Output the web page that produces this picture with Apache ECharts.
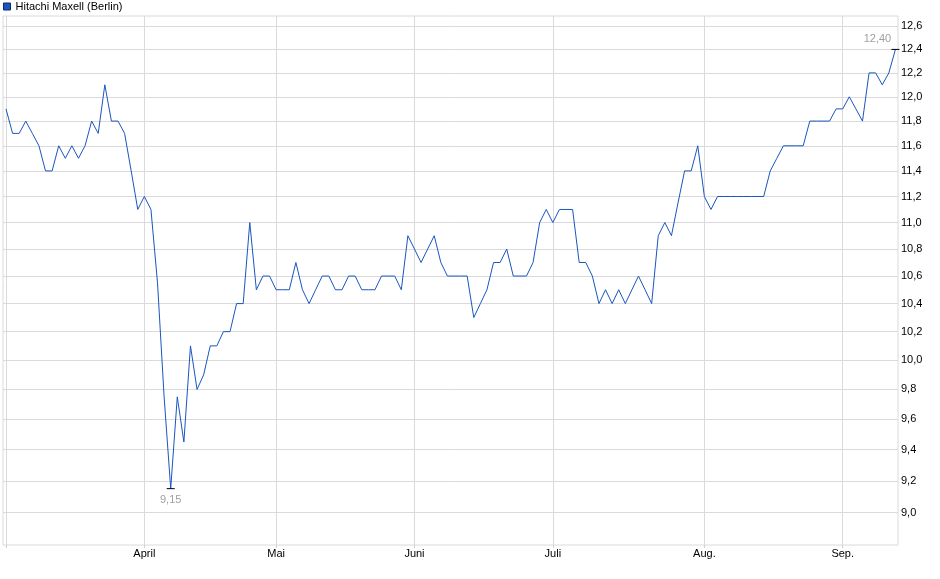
<!DOCTYPE html>
<html><head><meta charset="utf-8">
<script src="https://cdn.jsdelivr.net/npm/echarts@6/dist/echarts.min.js"></script>
<style>html,body{margin:0;padding:0;background:#fff}#c{width:940px;height:579px}</style>
</head><body><div id="c"></div>
<script>
const seriesName = 'Hitachi Maxell (Berlin)';
const prices = [
  11.9, 11.7, 11.7, 11.8, 11.7, 11.6, 11.4, 11.4, 11.6, 11.5,
  11.6, 11.5, 11.6, 11.8, 11.7, 12.1, 11.8, 11.8, 11.7, 11.4,
  11.1, 11.2, 11.1, 10.55, 9.75, 9.15, 9.75, 9.45, 10.1, 9.8,
  9.9, 10.1, 10.1, 10.2, 10.2, 10.4, 10.4, 11.0, 10.5, 10.6,
  10.6, 10.5, 10.5, 10.5, 10.7, 10.5, 10.4, 10.5, 10.6, 10.6,
  10.5, 10.5, 10.6, 10.6, 10.5, 10.5, 10.5, 10.6, 10.6, 10.6,
  10.5, 10.9, 10.8, 10.7, 10.8, 10.9, 10.7, 10.6, 10.6, 10.6,
  10.6, 10.3, 10.4, 10.5, 10.7, 10.7, 10.8, 10.6, 10.6, 10.6,
  10.7, 11.0, 11.1, 11.0, 11.1, 11.1, 11.1, 10.7, 10.7, 10.6,
  10.4, 10.5, 10.4, 10.5, 10.4, 10.5, 10.6, 10.5, 10.4, 10.9,
  11.0, 10.9, 11.15, 11.4, 11.4, 11.6, 11.2, 11.1, 11.2, 11.2,
  11.2, 11.2, 11.2, 11.2, 11.2, 11.2, 11.4, 11.5, 11.6, 11.6,
  11.6, 11.6, 11.8, 11.8, 11.8, 11.8, 11.9, 11.9, 12.0, 11.9,
  11.8, 12.2, 12.2, 12.1, 12.2, 12.4
];
const monthTickIndex = [0, 21, 41, 62, 83, 106, 127];
const monthLabels = ['', 'April', 'Mai', 'Juni', 'Juli', 'Aug.', 'Sep.'];
const yTicks = [9.0, 9.2, 9.4, 9.6, 9.8, 10.0, 10.2, 10.4, 10.6, 10.8, 11.0, 11.2, 11.4, 11.6, 11.8, 12.0, 12.2, 12.4, 12.6];
const yMin = 8.8, yMax = 12.69;

const FONT = 'Arial, "Liberation Sans", sans-serif';
const LINE = '#1a56c0';
const GRID = '#dadada';

const lineData = prices.map((v, i) => [i, Math.log(v)]);
let minIdx = 0;
prices.forEach((v, i) => { if (v < prices[minIdx]) minIdx = i; });
const lastIdx = prices.length - 1;
const fmt = v => v.toFixed(2).replace('.', ',');

const chart = echarts.init(document.getElementById('c'), null, {renderer: 'canvas'});
chart.setOption({
  animation: false,
  backgroundColor: '#fff',
  textStyle: {fontFamily: FONT},
  legend: {
    show: true, left: 3, top: 1, padding: 0, icon: 'rect', itemWidth: 7, itemHeight: 7,
    textStyle: {fontSize: 11, color: '#000', fontFamily: FONT},
    data: [{name: seriesName, itemStyle: {color: LINE, borderColor: '#0b2a66', borderWidth: 1}}]
  },
  grid: {left: 3, right: 42, top: 16, bottom: 34, show: true, borderColor: GRID, borderWidth: 1, containLabel: false},
  xAxis: {
    type: 'value', min: -0.455, max: lastIdx + 0.39,
    axisLine: {show: false},
    axisTick: {show: true, length: 3, lineStyle: {color: '#cfcfcf'}, customValues: monthTickIndex},
    axisLabel: {
      show: true, margin: 3, fontSize: 11, color: '#000', fontFamily: FONT,
      customValues: monthTickIndex,
      formatter: v => { const k = monthTickIndex.indexOf(Math.round(v)); return k >= 0 ? monthLabels[k] : ''; }
    },
    splitLine: {show: true, lineStyle: {color: GRID, width: 1}}
  },
  yAxis: {
    type: 'value', position: 'right', min: Math.log(yMin), max: Math.log(yMax),
    axisLine: {show: false},
    axisTick: {show: false, customValues: yTicks.map(Math.log)},
    axisLabel: {
      show: true, margin: 3, fontSize: 11, color: '#000', fontFamily: FONT,
      customValues: yTicks.map(Math.log),
      formatter: v => Math.exp(v).toFixed(1).replace('.', ',')
    },
    splitLine: {show: true, lineStyle: {color: GRID, width: 1}}
  },
  series: [{
    name: seriesName, type: 'line', data: lineData, showSymbol: false, symbol: 'none',
    lineStyle: {color: LINE, width: 1}, itemStyle: {color: LINE},
    markPoint: {
      symbol: 'rect', symbolSize: [8, 1], itemStyle: {color: '#000'},
      label: {fontSize: 11, color: '#a0a0a0', fontFamily: FONT, formatter: p => fmt(p.value)},
      data: [
        {coord: [minIdx, Math.log(prices[minIdx])], value: prices[minIdx], label: {position: 'bottom', distance: 5}},
        {coord: [lastIdx, Math.log(prices[lastIdx])], value: prices[lastIdx], label: {position: 'top', distance: 4, offset: [-18, 0]}}
      ]
    }
  }]
});
</script>
</body></html>
